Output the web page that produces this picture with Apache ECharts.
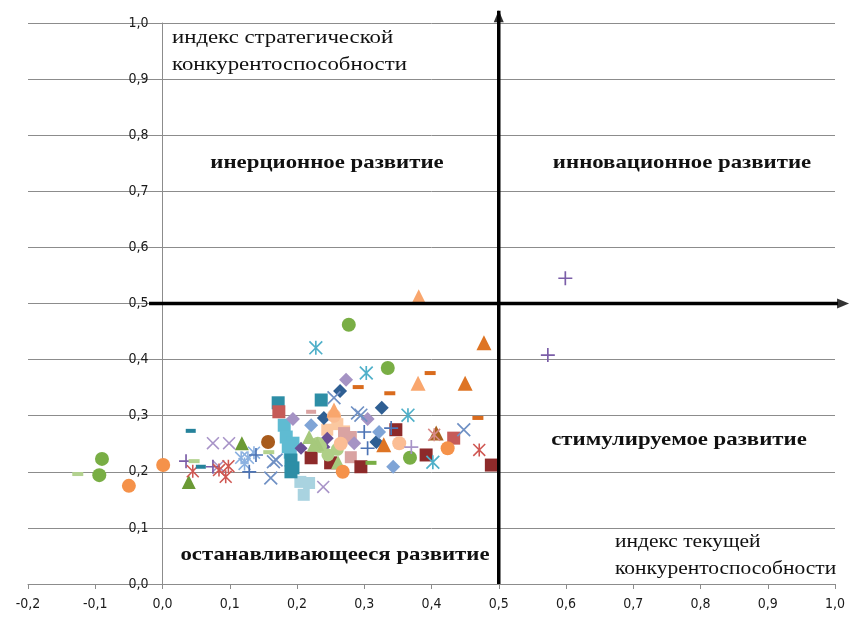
<!DOCTYPE html>
<html>
<head>
<meta charset="utf-8">
<script src="https://cdn.jsdelivr.net/npm/echarts@6/dist/echarts.min.js"></script>
<style>
html, body { margin: 0; padding: 0; background: #fff; }
#main { width: 850px; height: 619px; }
</style>
</head>
<body>
<div id="main"></div>
<script>
// axis ranges (tick step 0.1 on both axes)
var xRange = [-0.2, 1.0];
var yRange = [0, 1.0];
var tickStep = 0.1;

// quadrant separators, with arrow tips
var vSplit = [[0.5, 0], [0.5, 1.022]];
var hSplit = [[-0.02, 0.5], [1.02, 0.5]];
var vArrow = [[0.5, 1.012]];
var hArrow = [[1.012, 0.5]];

// points, grouped by marker look
var greenCircles = [[-0.09, 0.223], [-0.094, 0.194], [0.277, 0.462], [0.335, 0.385], [0.368, 0.225]];
var orangeCircles = [[0.001, 0.212], [-0.05, 0.175], [0.424, 0.242], [0.268, 0.2]];
var brownCircles = [[0.157, 0.253]];
var peachCircles = [[0.352, 0.251], [0.265, 0.25], [0.255, 0.3]];
var paleGreenCircles = [[0.246, 0.23], [0.231, 0.251], [0.26, 0.24], [0.235, 0.245]];
var greenTriangles = [[0.039, 0.182], [0.118, 0.251]];
var paleGreenTriangles = [[0.261, 0.217], [0.23, 0.25], [0.218, 0.262], [0.225, 0.248]];
var orangeTriangles = [[0.478, 0.43], [0.45, 0.358], [0.329, 0.248]];
var salmonTriangles = [[0.381, 0.512], [0.38, 0.358], [0.255, 0.31]];
var brownTriangles = [[0.407, 0.269]];
var lilacCrosses = [[0.075, 0.251], [0.099, 0.251], [0.239, 0.173], [0.083, 0.21]];
var blueCrosses = [[0.169, 0.221], [0.161, 0.189], [0.255, 0.332], [0.295, 0.301], [0.448, 0.275], [0.165, 0.218], [0.29, 0.305]];
var skyStars = [[0.117, 0.225], [0.127, 0.225], [0.136, 0.234], [0.122, 0.214]];
var bluePluses = [[0.129, 0.2], [0.139, 0.23], [0.3, 0.271], [0.34, 0.278], [0.305, 0.242]];
var purplePluses = [[0.035, 0.219], [0.075, 0.209], [0.599, 0.545], [0.573, 0.408]];
var lilacPluses = [[0.37, 0.244]];
var redStars = [[0.045, 0.201], [0.084, 0.203], [0.094, 0.191], [0.098, 0.21], [0.471, 0.239]];
var pinkStars = [[0.404, 0.266]];
var tealStars = [[0.228, 0.421], [0.303, 0.376], [0.365, 0.301], [0.402, 0.217]];
var tealDashes = [[0.042, 0.273], [0.057, 0.209]];
var paleGreenDashes = [[-0.126, 0.196], [0.047, 0.219], [0.158, 0.235]];
var orangeDashes = [[0.398, 0.376], [0.291, 0.351], [0.338, 0.34], [0.469, 0.296]];
var greenDashes = [[0.31, 0.216]];
var pinkDashes = [[0.221, 0.307]];
var navyDiamonds = [[0.264, 0.344], [0.326, 0.314], [0.318, 0.253], [0.24, 0.296]];
var lilacDiamonds = [[0.273, 0.364], [0.305, 0.294], [0.194, 0.294], [0.285, 0.251]];
var purpleDiamonds = [[0.206, 0.242], [0.24, 0.244], [0.245, 0.26]];
var skyDiamonds = [[0.221, 0.283], [0.322, 0.271], [0.343, 0.209]];
var tealSquares = [[0.172, 0.323], [0.236, 0.328], [0.191, 0.221], [0.194, 0.207], [0.191, 0.2]];
var aquaSquares = [[0.181, 0.283], [0.184, 0.262], [0.194, 0.251], [0.19, 0.235], [0.187, 0.245]];
var redSquares = [[0.173, 0.307], [0.433, 0.26]];
var maroonSquares = [[0.347, 0.275], [0.392, 0.23], [0.489, 0.212], [0.295, 0.209], [0.221, 0.225], [0.25, 0.216]];
var iceSquares = [[0.218, 0.18], [0.21, 0.159], [0.205, 0.182]];
var roseSquares = [[0.28, 0.226], [0.27, 0.269], [0.28, 0.262]];
var peachSquares = [[0.26, 0.285], [0.27, 0.272], [0.245, 0.275]];

var CROSS = 'path://M0,1.7L1.7,0L20,18.3L18.3,20ZM18.3,0L20,1.7L1.7,20L0,18.3Z';
var STAR = 'path://M0,1.7L1.7,0L20,18.3L18.3,20ZM18.3,0L20,1.7L1.7,20L0,18.3ZM8.8,0H11.2V20H8.8Z';
var PLUS = 'path://M8.8,0H11.2V20H8.8ZM0,8.8H20V11.2H0Z';

function pts(data, symbol, size, color) {
    return {
        type: 'scatter',
        data: data,
        symbol: symbol,
        symbolSize: size,
        itemStyle: { color: color, opacity: 1 },
        silent: true,
        z: 3
    };
}

function fmt(v) {
    return v.toFixed(1).replace('.', ',');
}

function label(x, y, text, bold, stretch) {
    return {
        type: 'text', x: x, y: y, scaleX: stretch || 1.2, silent: true,
        style: {
            text: text,
            font: (bold ? 'bold 19px ' : '19px ') + '"Liberation Serif", "DejaVu Serif", serif',
            fill: '#111',
            lineHeight: 27,
            align: bold ? 'center' : 'left',
            verticalAlign: bold ? 'middle' : 'top',
            textAlign: bold ? 'center' : 'left',
            textVerticalAlign: bold ? 'middle' : 'top'
        }
    };
}

function draw() {
    var dom = document.getElementById('main');
    var myChart = echarts.init(dom);
    var axisFont = '"Liberation Sans Narrow", "DejaVu Sans Condensed", sans-serif';
    var gLeft = 28, gRight = 15;
    // y axis sits on x = 0, so shift it right by that distance
    var plotW = 850 - gLeft - gRight;
    var yShift = (0 - xRange[0]) / (xRange[1] - xRange[0]) * plotW;

    var option = {
        animation: false,
        backgroundColor: '#fff',
        grid: { left: gLeft, right: gRight, top: 23, bottom: 35, containLabel: false, outerBoundsMode: 'none' },
        xAxis: {
            type: 'value',
            min: xRange[0],
            max: xRange[1],
            interval: tickStep,
            axisLine: { onZero: false, lineStyle: { color: '#8c8c8c', width: 1 } },
            axisTick: { show: true, length: 5, lineStyle: { color: '#8c8c8c' } },
            axisLabel: { color: '#1a1a1a', fontSize: 14, fontFamily: axisFont, margin: 13, formatter: fmt },
            splitLine: { show: false }
        },
        yAxis: {
            type: 'value',
            min: yRange[0],
            max: yRange[1],
            interval: tickStep,
            offset: -yShift,
            axisLine: { show: true, onZero: false, lineStyle: { color: '#8c8c8c', width: 1 } },
            axisTick: { show: false },
            axisLabel: { color: '#1a1a1a', fontSize: 14, fontFamily: axisFont, margin: 14, formatter: fmt },
            splitLine: { show: true, lineStyle: { color: '#8c8c8c', width: 1 } }
        },
        graphic: [
            label(172, 25, 'индекс стратегической\nконкурентоспособности', false),
            label(327, 163, 'инерционное развитие', true),
            label(682, 163, 'инновационное развитие', true),
            label(679, 440, 'стимулируемое развитие', true),
            label(335, 555, 'останавливающееся развитие', true),
            label(615, 529, 'индекс текущей\nконкурентоспособности', false, 1.13)
        ],
        series: [
            pts(peachSquares, 'rect', 12, '#fbc8a0'),
            pts(iceSquares, 'rect', 12, '#a9d3e0'),
            pts(roseSquares, 'rect', 12, '#d9a3a2'),
            pts(aquaSquares, 'rect', 13, '#5fbbd2'),
            pts(tealSquares, 'rect', 13, '#2d8ea6'),
            pts(redSquares, 'rect', 13, '#c65a57'),
            pts(maroonSquares, 'rect', 13, '#8d2a2a'),
            pts(navyDiamonds, 'diamond', 14, '#2f5f93'),
            pts(lilacDiamonds, 'diamond', 14, '#a593c4'),
            pts(purpleDiamonds, 'diamond', 13, '#6a4f96'),
            pts(skyDiamonds, 'diamond', 14, '#7fa4d6'),
            pts(paleGreenCircles, 'circle', 13, '#afcf87'),
            pts(paleGreenTriangles, 'triangle', 14, '#a6c97c'),
            pts(greenCircles, 'circle', 14, '#79ae45'),
            pts(orangeCircles, 'circle', 14, '#f5924a'),
            pts(brownCircles, 'circle', 14, '#a85b1c'),
            pts(peachCircles, 'circle', 14, '#fbbd94'),
            pts(greenTriangles, 'triangle', 14, '#6b9a35'),
            pts(orangeTriangles, 'triangle', 15, '#de7424'),
            pts(salmonTriangles, 'triangle', 15, '#f9a66d'),
            pts(brownTriangles, 'triangle', 15, '#a8621f'),
            pts(lilacCrosses, CROSS, 13, '#a894c8'),
            pts(blueCrosses, CROSS, 14, '#6f90c4'),
            pts(skyStars, STAR, 13, '#8ab0e0'),
            pts(bluePluses, PLUS, 14, '#4d74b5'),
            pts(purplePluses, PLUS, 14, '#7b5ea8'),
            pts(lilacPluses, PLUS, 14, '#a894c8'),
            pts(redStars, STAR, 13, '#cf5752'),
            pts(pinkStars, STAR, 13, '#d98a88'),
            pts(tealStars, STAR, 14, '#4fb0c9'),
            pts(tealDashes, 'rect', [10, 4], '#25829b'),
            pts(paleGreenDashes, 'rect', [11, 4], '#b3d28f'),
            pts(orangeDashes, 'rect', [11, 4], '#d96b1d'),
            pts(greenDashes, 'rect', [11, 4], '#79ae45'),
            pts(pinkDashes, 'rect', [10, 4], '#dba3a2'),
            {
                type: 'line', data: vSplit, clip: false, silent: true, showSymbol: false, z: 5,
                lineStyle: { color: '#000', width: 3.5 }
            },
            {
                type: 'line', data: hSplit, clip: false, silent: true, showSymbol: false, z: 5,
                lineStyle: { color: '#000', width: 3.5 }
            },
            {
                type: 'scatter', data: vArrow, clip: false, silent: true, z: 6,
                symbol: 'triangle', symbolSize: [10, 12], itemStyle: { color: '#000' }
            },
            {
                type: 'scatter', data: hArrow, clip: false, silent: true, z: 6,
                symbol: 'triangle', symbolRotate: -90, symbolSize: [10, 12], itemStyle: { color: '#000' }
            }
        ]
    };
    myChart.setOption(option, true);
    window.onresize = myChart.resize;
}

draw();
</script>
</body>
</html>
